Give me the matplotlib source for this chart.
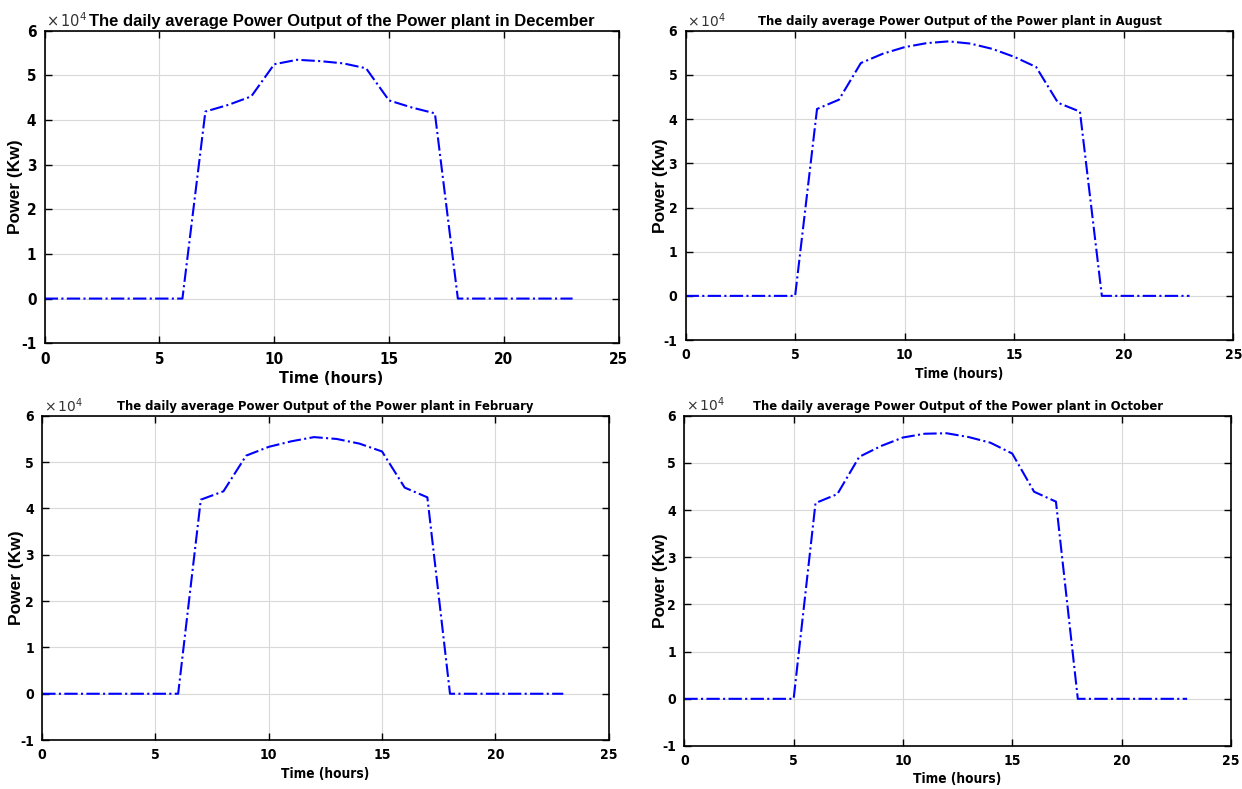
import numpy as np
import matplotlib
matplotlib.use('Agg')
import matplotlib.pyplot as plt
from matplotlib.ticker import FuncFormatter

# hours of the day
hours = list(range(24))

# daily average power output (kW)
december = [0, 0, 0, 0, 0, 0, 0, 41900, 43400, 45300, 52500, 53500, 53200, 52700, 51600,
            44400, 42800, 41500, 0, 0, 0, 0, 0, 0]
august = [0, 0, 0, 0, 0, 0, 42300, 44400, 52700, 54800, 56300, 57200, 57600, 57100, 55900,
          54100, 51800, 43700, 41700, 0, 0, 0, 0, 0]
february = [0, 0, 0, 0, 0, 0, 0, 41900, 43700, 51400, 53300, 54500, 55400, 55000, 54000,
            52300, 44500, 42400, 0, 0, 0, 0, 0, 0]
october = [0, 0, 0, 0, 0, 0, 41500, 43400, 51300, 53600, 55400, 56200, 56300, 55500, 54300,
           52000, 43900, 41800, 0, 0, 0, 0, 0, 0]

months = ['December', 'August', 'February', 'October']
series = [december, august, february, october]

# axes boxes [left, bottom, width, height] in figure fractions
boxes = [
    [0.036, 0.565, 0.462, 0.396],
    [0.552, 0.569, 0.441, 0.392],
    [0.034, 0.062, 0.456, 0.411],
    [0.551, 0.0545, 0.440, 0.4185],
]
# where the y label sits (axes fraction, right edge of the rotated text)
ylabel_x = [-0.037, -0.033, -0.032, -0.029]

wide = ['Liberation Sans', 'DejaVu Sans']
# condensed look for titles/ticks (MATLAB figure uses a narrow bold face)
narrow = dict(family='DejaVu Sans', stretch='condensed')

fig = plt.figure(figsize=(12.42, 7.89), dpi=100)

for i, (month, vals, box) in enumerate(zip(months, series, boxes)):
    ax = fig.add_axes(box)
    ax.plot(hours, vals, color='#0000ff', linestyle='-.', linewidth=1.5)
    ax.set_xlim(0, 25)
    ax.set_ylim(-10000, 60000)
    ax.set_xticks([0, 5, 10, 15, 20, 25])
    ax.set_yticks(np.arange(-10000, 60001, 10000))
    ax.yaxis.set_major_formatter(FuncFormatter(lambda v, p: '%d' % round(v / 1e4)))
    ax.grid(True, color='#d9d9d9', linewidth=0.8)
    ax.tick_params(direction='in', top=True, right=True, length=5, width=1, pad=6)
    for s in ax.spines.values():
        s.set_linewidth(1.2)

    title = 'The daily average Power Output of the Power plant in ' + month
    big = (i == 0)
    if big:
        # first panel: wide bold title sitting right after the exponent label
        ax.text(0.077, 1.006, title, transform=ax.transAxes, ha='left', va='bottom',
                family=wide, fontweight='bold', fontsize=12)
        ax.text(0.002, 1.004, r'$\times\,10^{4}$', transform=ax.transAxes, ha='left',
                va='bottom', fontsize=10.5, color='#333333')
    else:
        ax.set_title(title, fontweight='bold', fontsize=9.3, pad=4, **narrow)
        ax.text(0.003, 1.004, r'$\times\,10^{4}$', transform=ax.transAxes, ha='left',
                va='bottom', fontsize=10, color='#333333')
    ax.set_xlabel('Time (hours)', fontweight='bold',
                  fontsize=11.5 if big else 9.8, labelpad=3, **narrow)
    ax.set_ylabel('Power (Kw)', family=wide, fontweight='bold', fontsize=12.5)
    ax.yaxis.set_label_coords(ylabel_x[i], 0.5)
    for lab in ax.get_xticklabels() + ax.get_yticklabels():
        lab.set_family('DejaVu Sans')
        lab.set_stretch('condensed')
        lab.set_fontweight('bold')
        lab.set_fontsize(11 if big else 10)

fig.savefig('out.png', dpi=100)
